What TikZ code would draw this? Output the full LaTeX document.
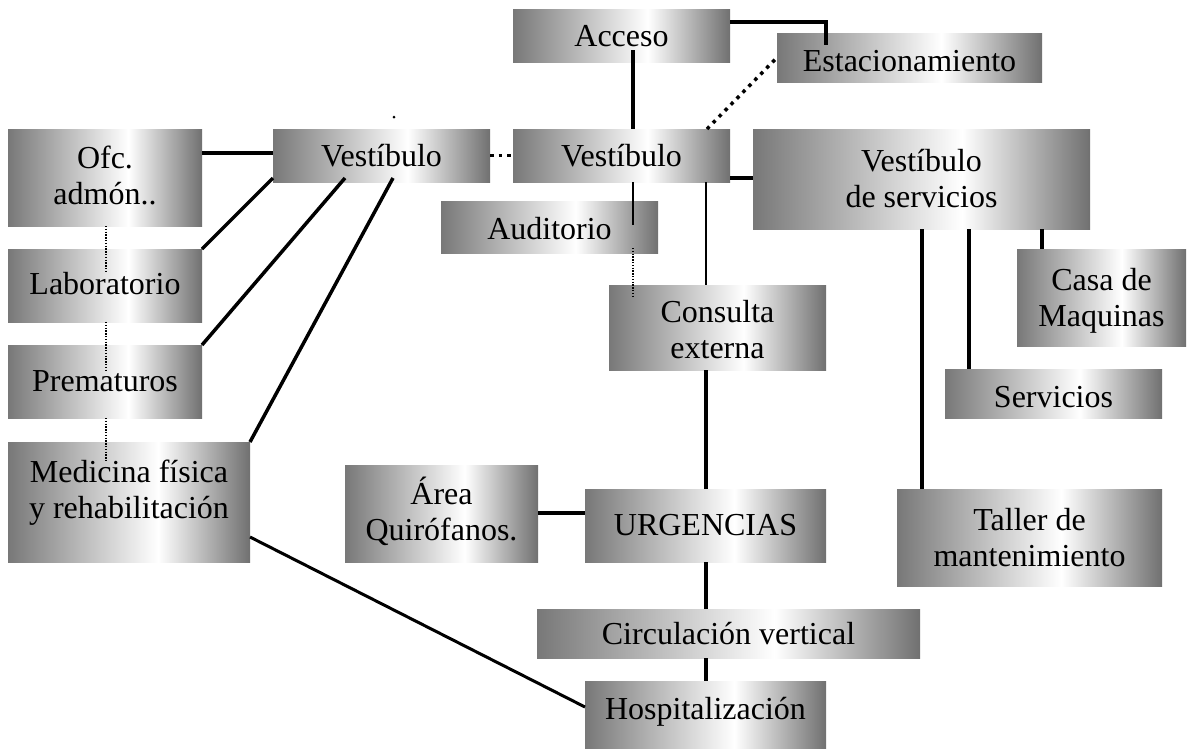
\documentclass[tikz,border=0pt]{standalone}
\usepackage{fontspec}
\setmainfont{Liberation Serif}
\usetikzlibrary{calc}
\definecolor{gL}{gray}{0.47}
\definecolor{gR}{gray}{0.44}
\pgfdeclarehorizontalshading{boxshade}{100bp}{color(0bp)=(gL); color(25bp)=(gL); color(56bp)=(white); color(75bp)=(gR); color(100bp)=(gR)}
\tikzset{
  bx/.style={rectangle, shade, shading=boxshade, inner sep=0pt, outer sep=0pt},
  lbl/.style={font=\fontsize{32}{36}\selectfont, align=center, inner sep=0pt},
  ln/.style={line width=3.5pt},
  thinln/.style={line width=2pt},
  medln/.style={line width=3pt},
  dotln/.style={line width=3.5pt, dash pattern=on 3.5pt off 5pt},
  finedot/.style={line width=1.3pt, dash pattern=on 1.3pt off 1.5pt},
}
\newcommand\mkbox[7]{%
  \node[bx, minimum width={(#4)-(#2)}, minimum height={(#5)-(#3)}] (#1) at ({((#2)+(#4))/2},{((#3)+(#5))/2}) {};
  \node[lbl] (#1-t) at ([yshift=#7]#1.center) {#6};}
\begin{document}
\begin{tikzpicture}[x=1pt,y=-1pt]
\useasboundingbox (0,0) rectangle (1189,748);
% boxes
\mkbox{acc}{513}{9}{730}{62}{Acceso}{-1pt}
\mkbox{est}{777}{33}{1042}{82}{Estacionamiento}{-4pt}
\mkbox{vl}{273}{129}{490}{182}{Vestíbulo}{0pt}
\mkbox{vc}{513}{129}{730}{182}{Vestíbulo}{0pt}
\mkbox{vs}{753}{129}{1090}{229}{Vestíbulo\\de servicios}{0pt}
\mkbox{ofc}{8}{129}{202}{226}{Ofc.\\admón..}{2pt}
\mkbox{lab}{8}{249}{202}{322}{Laboratorio}{2pt}
\mkbox{pre}{8}{345}{202}{418}{Prematuros}{0pt}
\mkbox{med}{8}{442}{250}{562}{Medicina física\\y rehabilitación}{9pt}
\mkbox{aud}{441}{201}{658}{253}{Auditorio}{-2pt}
\mkbox{con}{609}{285}{826}{370}{Consulta\\externa}{-2pt}
\mkbox{casa}{1017}{249}{1186}{346}{Casa de\\Maquinas}{-3pt}
\mkbox{serv}{945}{369}{1162}{418}{Servicios}{-4pt}
\mkbox{tal}{897}{489}{1162}{586}{Taller de\\mantenimiento}{0pt}
\mkbox{area}{345}{465}{538}{562}{Área\\Quirófanos.}{2pt}
\mkbox{urg}{585}{489}{826}{562}{URGENCIAS}{0pt}
\mkbox{circ}{537}{609}{920}{658}{Circulación vertical}{0pt}
\mkbox{hosp}{585}{681}{826}{748}{Hospitalización}{3pt}
% connectors
\draw[ln] (acc.east |- 0,22) -| ($(est.north west)+(49,12)$);
\draw[ln] ($(acc.south west)+(120,-12)$) -- ($(vc.north west)+(120,0)$);
\draw[dotln] ($(vc.north east)+(-23,0)$) -- (est.west);
\draw[dotln] (vl.east) -- (vc.west);
\draw[ln] (vc.east |- 0,178) -- (vs.west |- 0,178);
\draw[ln] (ofc.east |- 0,153) -- (vl.west |- 0,153);
\draw[ln] (vl.west |- 0,178) -- (lab.north east);
\draw[ln] ($(vl.south west)+(72,-4)$) -- (pre.north east);
\draw[ln] ($(vl.south west)+(120,-4)$) -- (med.north east);
\draw[thinln] ($(vc.south west)+(120,0)$) -- ($(aud.north west)+(192,24)$);
\draw[finedot] ($(aud.south west)+(192,-5)$) -- ($(con.north west)+(24,12)$);
\draw[thinln] ($(vc.south west)+(193,0)$) -- ($(con.north west)+(97,0)$);
\draw[ln] ($(con.south west)+(97,0)$) -- ($(urg.north west)+(121,0)$);
\draw[ln] (area.east |- 0,513) -- (urg.west |- 0,513);
\draw[ln] ($(urg.south west)+(121,0)$) -- ($(circ.north west)+(169,0)$);
\draw[ln] ($(circ.south west)+(169,0)$) -- ($(hosp.north west)+(121,0)$);
\draw[medln] ($(med.south east)+(0,-25)$) -- ($(hosp.north west)+(0,26)$);
\draw[ln] ($(vs.south west)+(289,0)$) -- ($(casa.north west)+(25,0)$);
\draw[ln] ($(vs.south west)+(216,0)$) -- ($(serv.north west)+(24,0)$);
\draw[ln] ($(vs.south west)+(169,0)$) -- ($(tal.north west)+(25,0)$);
\draw[finedot] ($(ofc.south west)+(98,0)$) -- ($(lab.north west)+(98,24)$);
\draw[finedot] ($(lab.south west)+(98,0)$) -- ($(pre.north west)+(98,27)$);
\draw[finedot] ($(pre.south west)+(98,0)$) -- ($(med.north west)+(98,20)$);
\fill (394,117) circle (1.5);
\end{tikzpicture}
\end{document}
